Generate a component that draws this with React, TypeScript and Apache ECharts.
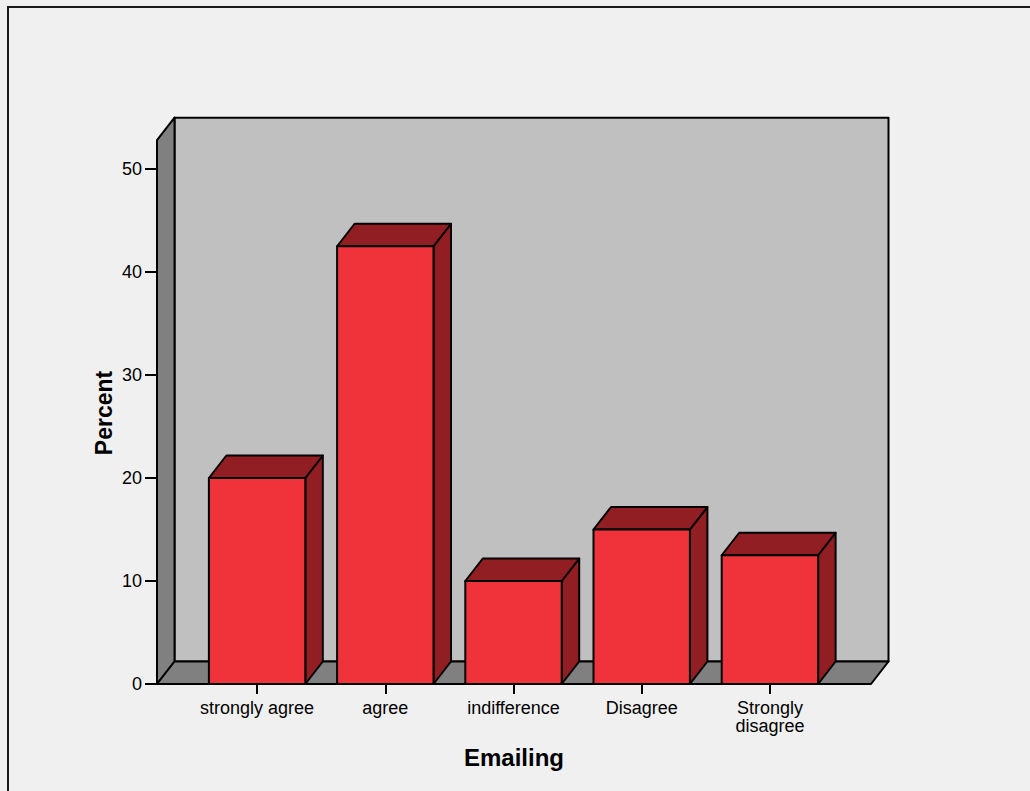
import React, { useEffect, useRef } from "react";
import * as echarts from "echarts";

// Survey responses for "Emailing", percent of respondents
const categories = ["strongly agree", "agree", "indifference", "Disagree", "Strongly\ndisagree"];
const percents = [20, 42.5, 10, 15, 12.5];
const yTicks = { min: 0, max: 50, interval: 10 };

// Height (in percent units) of the 3D frame walls
const WALL_TOP = 52.8;
// 3D depth offset in pixels
const DX = 17.5;
const DY = -22.5;
const BAR_RATIO = 0.752;

const FONT = "'Liberation Sans', Arial, Helvetica, sans-serif";
const FRONT = "#f0323a";
const DARK = "#911e23";
const EDGE = "#000000";

export default function App() {
  const ref = useRef<HTMLDivElement>(null);

  useEffect(() => {
    if (!ref.current) return;
    const chart = echarts.init(ref.current, undefined, { renderer: "svg" });

    const edgeStyle = { stroke: EDGE, lineWidth: 2, lineJoin: "round" as const };

    const option: any = {
      animation: false,
      backgroundColor: "#f0f0f0",
      graphic: [
        {
          type: "rect",
          shape: { x: 8, y: 7, width: 1100, height: 900 },
          style: { fill: "none", stroke: "#1a1a1a", lineWidth: 2 },
          z: 100,
        },
        {
          type: "text",
          x: 104,
          y: 413,
          rotation: Math.PI / 2,
          style: {
            text: "Percent",
            font: `bold 23px ${FONT}`,
            fill: "#000",
            align: "center",
            verticalAlign: "middle",
          },
        },
        {
          type: "text",
          x: 514,
          y: 757,
          style: {
            text: "Emailing",
            font: `bold 24px ${FONT}`,
            fill: "#000",
            align: "center",
            verticalAlign: "middle",
          },
        },
      ],
      grid: [
        { left: 157, right: 159, top: 169, bottom: 107 },
        { left: 193, right: 196, top: 169, bottom: 107 },
      ],
      xAxis: [
        { type: "value", gridIndex: 0, min: 0, max: 1, show: false },
        {
          type: "category",
          gridIndex: 1,
          data: categories,
          axisLine: { show: false },
          axisTick: {
            show: true,
            alignWithLabel: true,
            interval: 0,
            length: 10,
            lineStyle: { color: EDGE, width: 2 },
          },
          axisLabel: {
            interval: 0,
            margin: 15,
            color: "#000",
            fontFamily: FONT,
            fontSize: 18,
            lineHeight: 18,
          },
          splitLine: { show: false },
        },
      ],
      yAxis: [
        {
          type: "value",
          gridIndex: 0,
          min: yTicks.min,
          max: yTicks.max,
          interval: yTicks.interval,
          axisLine: { show: false },
          axisTick: { show: true, length: 12, lineStyle: { color: EDGE, width: 2 } },
          axisLabel: { margin: 15, color: "#000", fontFamily: FONT, fontSize: 18 },
          splitLine: { show: false },
        },
        {
          type: "value",
          gridIndex: 1,
          min: yTicks.min,
          max: yTicks.max,
          show: false,
        },
      ],
      series: [
        {
          // frame: back wall, left wall and floor
          type: "custom",
          xAxisIndex: 0,
          yAxisIndex: 0,
          clip: false,
          z: 1,
          data: [[0, 0]],
          renderItem: (_p: any, api: any) => {
            const bl = api.coord([0, 0]);
            const br = api.coord([1, 0]);
            const tl = api.coord([0, WALL_TOP]);
            const back = (p: number[]) => [p[0] + DX, p[1] + DY];
            const bbl = back(bl);
            const bbr = back(br);
            const btl = back(tl);
            return {
              type: "group",
              children: [
                {
                  type: "polygon",
                  shape: { points: [btl, [bbr[0], btl[1]], bbr, bbl] },
                  style: { fill: "#c0c0c0", ...edgeStyle },
                },
                {
                  type: "polygon",
                  shape: { points: [bl, tl, btl, bbl] },
                  style: { fill: "#808080", ...edgeStyle },
                },
                {
                  type: "polygon",
                  shape: { points: [bl, bbl, bbr, br] },
                  style: { fill: "#808080", ...edgeStyle },
                },
              ],
            };
          },
        },
        {
          type: "custom",
          xAxisIndex: 1,
          yAxisIndex: 1,
          clip: false,
          z: 2,
          encode: { x: 0, y: 1 },
          data: percents.map((v, i) => [i, v]),
          renderItem: (_p: any, api: any) => {
            const idx = api.value(0);
            const v = api.value(1);
            const base = api.coord([idx, 0]);
            const top = api.coord([idx, v]);
            const band = api.size([1, 0])[0];
            const w = band * BAR_RATIO;
            const x0 = base[0] - w / 2;
            const x1 = base[0] + w / 2;
            const y0 = base[1];
            const y1 = top[1];
            return {
              type: "group",
              children: [
                {
                  type: "polygon",
                  shape: { points: [[x1, y0], [x1, y1], [x1 + DX, y1 + DY], [x1 + DX, y0 + DY]] },
                  style: { fill: DARK, ...edgeStyle },
                },
                {
                  type: "polygon",
                  shape: { points: [[x0, y1], [x0 + DX, y1 + DY], [x1 + DX, y1 + DY], [x1, y1]] },
                  style: { fill: DARK, ...edgeStyle },
                },
                {
                  type: "rect",
                  shape: { x: x0, y: y1, width: w, height: y0 - y1 },
                  style: { fill: FRONT, ...edgeStyle },
                },
              ],
            };
          },
        },
      ],
    };

    chart.setOption(option);
    return () => chart.dispose();
  }, []);

  return (
    <div
      ref={ref}
      style={{ position: "fixed", left: 0, top: 0, width: 1030, height: 791 }}
    />
  );
}
